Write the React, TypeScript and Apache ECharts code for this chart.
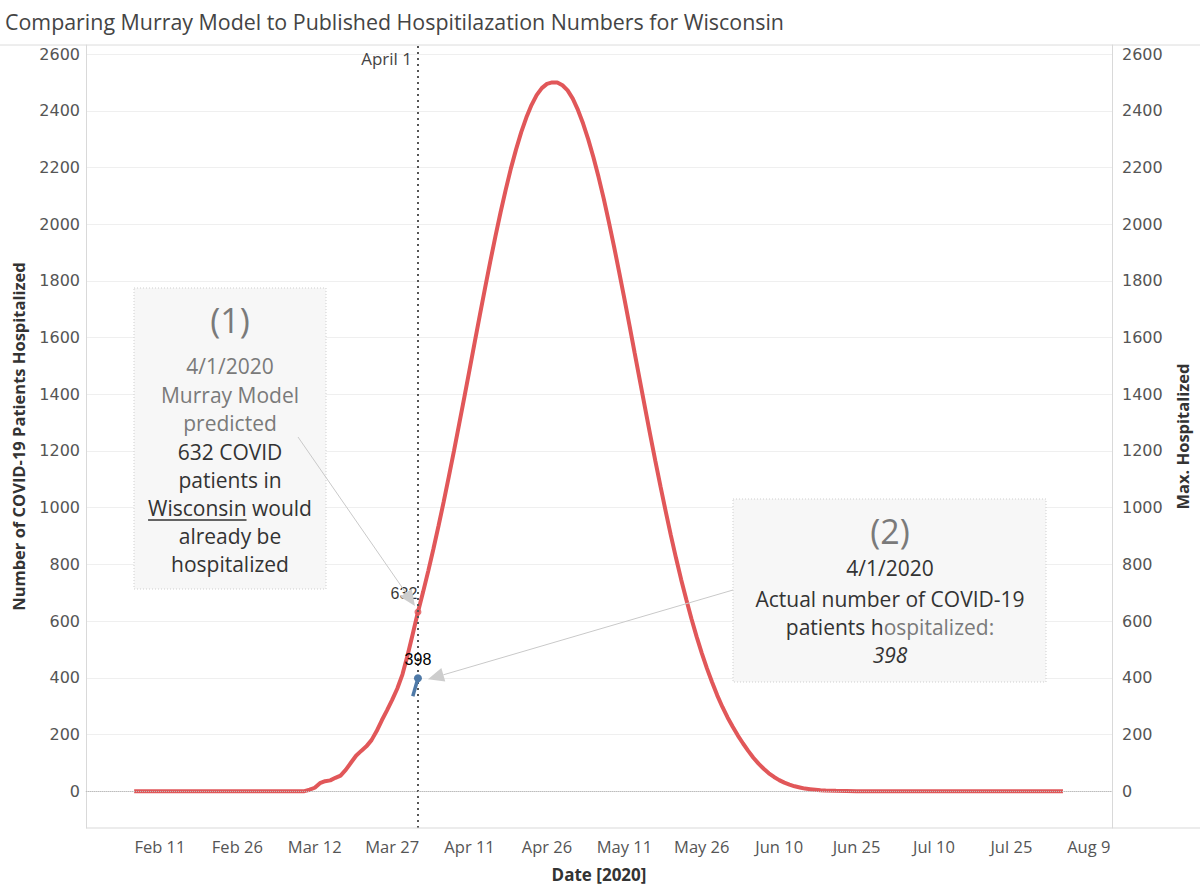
import React, { useEffect, useRef } from "react";
import * as echarts from "echarts";

// ---- data ----
const modelDates: string[] = [
  "2020-02-06", "2020-03-10", "2020-03-11", "2020-03-12", "2020-03-13", "2020-03-14", "2020-03-15",
  "2020-03-16", "2020-03-17", "2020-03-18", "2020-03-19", "2020-03-20", "2020-03-21", "2020-03-22",
  "2020-03-23", "2020-03-24", "2020-03-25", "2020-03-26", "2020-03-27", "2020-03-28", "2020-03-29",
  "2020-03-30", "2020-03-31", "2020-04-01", "2020-04-02", "2020-04-03", "2020-04-04", "2020-04-05",
  "2020-04-06", "2020-04-07", "2020-04-08", "2020-04-09", "2020-04-10", "2020-04-11", "2020-04-12",
  "2020-04-13", "2020-04-14", "2020-04-15", "2020-04-16", "2020-04-17", "2020-04-18", "2020-04-19",
  "2020-04-20", "2020-04-21", "2020-04-22", "2020-04-23", "2020-04-24", "2020-04-25", "2020-04-26",
  "2020-04-27", "2020-04-28", "2020-04-29", "2020-04-30", "2020-05-01", "2020-05-02", "2020-05-03",
  "2020-05-04", "2020-05-05", "2020-05-06", "2020-05-07", "2020-05-08", "2020-05-09", "2020-05-10",
  "2020-05-11", "2020-05-12", "2020-05-13", "2020-05-14", "2020-05-15", "2020-05-16", "2020-05-17",
  "2020-05-18", "2020-05-19", "2020-05-20", "2020-05-21", "2020-05-22", "2020-05-23", "2020-05-24",
  "2020-05-25", "2020-05-26", "2020-05-27", "2020-05-28", "2020-05-29", "2020-05-30", "2020-05-31",
  "2020-06-01", "2020-06-02", "2020-06-03", "2020-06-04", "2020-06-05", "2020-06-06", "2020-06-07",
  "2020-06-08", "2020-06-09", "2020-06-10", "2020-06-11", "2020-06-12", "2020-06-13", "2020-06-14",
  "2020-06-15", "2020-06-16", "2020-06-17", "2020-06-18", "2020-06-19", "2020-06-21", "2020-06-25",
  "2020-08-04",
];
const modelValues: number[] = [
  0, 0, 5, 12, 28, 35, 38,
  47, 55, 75, 100, 125, 142, 158,
  180, 212, 250, 285, 322, 362, 412,
  480, 555, 632, 703, 777, 855, 937,
  1022, 1111, 1202, 1296, 1391, 1487, 1584,
  1680, 1774, 1867, 1956, 2041, 2121, 2196,
  2263, 2324, 2376, 2420, 2455, 2480, 2495,
  2500, 2500, 2490, 2472, 2443, 2403, 2355,
  2299, 2236, 2166, 2090, 2007, 1921, 1830,
  1737, 1642, 1545, 1449, 1353, 1258, 1165,
  1075, 988, 903, 823, 747, 676, 608,
  545, 487, 433, 384, 338, 297, 260,
  227, 196, 168, 142, 118, 97, 79,
  63, 50, 39, 30, 23, 17, 13,
  9, 7, 5, 3, 2, 1, 0,
  0,
];
const actualDates: string[] = ["2020-03-31", "2020-04-01"];
const actualValues: number[] = [335, 398];
const xTickDates: string[] = [
  "2020-02-11", "2020-02-26", "2020-03-12", "2020-03-27", "2020-04-11", "2020-04-26", "2020-05-11",
  "2020-05-26", "2020-06-10", "2020-06-25", "2020-07-10", "2020-07-25", "2020-08-09",
];
const yTicks: number[] = [0, 200, 400, 600, 800, 1000, 1200, 1400, 1600, 1800, 2000, 2200, 2400, 2600];
const referenceDate = "2020-04-01";
const predictedValue = 632;
const actualValue = 398;

const MONTHS = ["Jan", "Feb", "Mar", "Apr", "May", "Jun", "Jul", "Aug", "Sep", "Oct", "Nov", "Dec"];
const toTs = (s: string) => {
  const [y, m, d] = s.split("-").map(Number);
  return Date.UTC(y, m - 1, d);
};
const fmt = (v: number) => {
  const d = new Date(v);
  return `${MONTHS[d.getUTCMonth()]} ${d.getUTCDate()}`;
};

const FONT = "'Open Sans', 'Noto Sans', sans-serif";
const GRAY = "#7a7a7a";
const DARK = "#333333";

function measure(text: string, size: number) {
  const c = document.createElement("canvas").getContext("2d");
  if (!c) return text.length * size * 0.55;
  c.font = `${size}px 'Open Sans'`;
  return c.measureText(text).width;
}

function arrow(x1: number, y1: number, x2: number, y2: number) {
  const dx = x2 - x1;
  const dy = y2 - y1;
  const len = Math.hypot(dx, dy);
  const ux = dx / len;
  const uy = dy / len;
  const hl = 16;
  const hw = 7;
  const bx = x2 - ux * hl;
  const by = y2 - uy * hl;
  return [
    { type: "line", z: 50, shape: { x1, y1, x2: bx, y2: by }, style: { stroke: "#c9c9c9", lineWidth: 1 } },
    {
      type: "polygon",
      z: 50,
      shape: { points: [[x2, y2], [bx - uy * hw, by + ux * hw], [bx + uy * hw, by - ux * hw]] },
      style: { fill: "#cdcdcd" },
    },
  ];
}

export default function App() {
  const ref = useRef<HTMLDivElement>(null);

  useEffect(() => {
    if (!ref.current) return;
    const chart = echarts.init(ref.current, undefined, { renderer: "svg" });
    const refTs = toTs(referenceDate);
    const modelData = modelDates.map((d, i) => [toTs(d), modelValues[i]]);
    const actualData = actualDates.map((d, i) =>
      i === actualDates.length - 1
        ? { value: [toTs(d), actualValues[i]], symbol: "circle" }
        : { value: [toTs(d), actualValues[i]], symbol: "none" }
    );
    const xTicks = xTickDates.map(toTs);

    const yAxisBase = {
      type: "value",
      min: -130,
      max: 2632,
      axisLine: { show: true, lineStyle: { color: "#d9d9d9" } },
      axisTick: { show: false, customValues: yTicks },
      axisLabel: {
        customValues: yTicks,
        formatter: (v: number) => String(v),
        color: "#555",
        fontSize: 16,
        fontFamily: "'DejaVu Sans', sans-serif",
      },
      nameLocation: "middle",
      nameGap: 59,
      nameTextStyle: { color: DARK, fontSize: 16.5, fontWeight: "bold", fontFamily: FONT },
    };

    chart.setOption({
      animation: false,
      backgroundColor: "#ffffff",
      grid: { left: 86, right: 88, top: 45, bottom: 59, containLabel: false, outerBoundsMode: "none" },
      xAxis: {
        type: "value",
        min: toTs("2020-01-27") + 16 * 3600000,
        max: toTs("2020-08-13") + 12 * 3600000,
        axisLine: { show: true, lineStyle: { color: "#d9d9d9" } },
        axisTick: { show: false, customValues: xTicks },
        splitLine: { show: false },
        axisLabel: {
          customValues: xTicks,
          formatter: (v: number) => fmt(v),
          color: "#555",
          fontSize: 16.5,
          fontFamily: FONT,
          margin: 10,
        },
        name: "Date [2020]",
        nameLocation: "middle",
        nameGap: 38,
        nameTextStyle: { color: DARK, fontSize: 17, fontWeight: "bold", fontFamily: FONT },
      },
      yAxis: [
        {
          ...yAxisBase,
          position: "left",
          name: "Number of COVID-19 Patients Hospitalized",
          splitLine: { show: true, lineStyle: { color: "#efefef", width: 1 } },
          axisLabel: { ...yAxisBase.axisLabel, margin: 6 },
        },
        {
          ...yAxisBase,
          position: "right",
          name: "Max. Hospitalized",
          splitLine: { show: false },
          axisLabel: { ...yAxisBase.axisLabel, margin: 10 },
        },
      ],
      series: [
        {
          type: "line",
          name: "Murray Model",
          data: modelData,
          showSymbol: false,
          symbol: "none",
          lineStyle: { color: "#e15759", width: 4 },
          itemStyle: { color: "#e15759" },
          z: 3,
          markLine: {
            silent: true,
            symbol: ["none", "none"],
            label: { show: false },
            data: [
              { xAxis: refTs, lineStyle: { color: "#555", type: [2, 4], width: 2 } },
              { yAxis: 0, lineStyle: { color: "#bdbdbd", type: "dotted", width: 1 } },
            ],
          },
        },
        {
          type: "scatter",
          name: "Predicted 4/1",
          data: [[refTs, predictedValue]],
          symbol: "circle",
          symbolSize: 7,
          itemStyle: { color: "#e15759" },
          z: 4,
          label: {
            show: true,
            position: "top",
            offset: [-14, -2],
            color: "#000",
            fontSize: 16,
            fontFamily: "'Liberation Sans', Arial, sans-serif",
            formatter: () => String(predictedValue),
          },
        },
        {
          type: "line",
          name: "Actual",
          data: actualData,
          symbolSize: 8,
          lineStyle: { color: "#4e79a7", width: 3.5 },
          itemStyle: { color: "#4e79a7" },
          z: 5,
          label: {
            show: true,
            position: "top",
            offset: [0, -2],
            color: "#000",
            fontSize: 16,
            fontFamily: "'Liberation Sans', Arial, sans-serif",
            formatter: (p: any) => (p.dataIndex === actualDates.length - 1 ? String(actualValue) : ""),
          },
        },
      ],
    });

    const pPred = chart.convertToPixel({ xAxisIndex: 0, yAxisIndex: 0 }, [refTs, predictedValue]) as number[];
    const pAct = chart.convertToPixel({ xAxisIndex: 0, yAxisIndex: 0 }, [refTs, actualValue]) as number[];

    const b1x = 230;
    const line = (text: string, x: number, y: number, size: number, color: string, extra: any = {}) => ({
      type: "text",
      z: 40,
      x,
      y,
      style: {
        text,
        fill: color,
        fontSize: size,
        fontFamily: FONT,
        align: "center",
        verticalAlign: "middle",
        ...extra,
      },
    });
    const wisW = measure("Wisconsin", 21);
    const fullW = measure("Wisconsin would", 21);
    const ulX = b1x - fullW / 2;

    chart.setOption({
      graphic: [
        {
          type: "text",
          z: 40,
          x: 5,
          y: 21,
          style: {
            text: "Comparing Murray Model to Published Hospitilazation Numbers for Wisconsin",
            fill: "#444",
            fontSize: 21.4,
            fontFamily: FONT,
            verticalAlign: "middle",
          },
        },
        { type: "line", z: 40, shape: { x1: 0, y1: 45, x2: 1200, y2: 45 }, style: { stroke: "#dcdcdc", lineWidth: 1 } },
        { type: "line", z: 40, shape: { x1: 86, y1: 828, x2: 1200, y2: 828 }, style: { stroke: "#d9d9d9", lineWidth: 1 } },
        {
          type: "text",
          z: 40,
          x: pPred[0] - 6,
          y: 58,
          style: {
            text: "April 1",
            fill: "#444",
            fontSize: 17,
            fontFamily: FONT,
            align: "right",
            verticalAlign: "middle",
          },
        },
        // Box 1
        {
          type: "rect",
          z: 30,
          shape: { x: 134, y: 288, width: 192, height: 301 },
          style: { fill: "#f7f7f7", stroke: "#cfcfcf", lineWidth: 1, lineDash: [1, 2] },
        },
        line("(1)", b1x, 320, 34, GRAY),
        line("4/1/2020", b1x, 366, 21, GRAY),
        line("Murray Model", b1x, 395, 21, GRAY),
        line("predicted", b1x, 423, 21, GRAY),
        line("632 COVID", b1x, 452, 21, DARK),
        line("patients in", b1x, 480, 21, DARK),
        line("Wisconsin would", b1x, 508, 21, DARK),
        line("already be", b1x, 536, 21, DARK),
        line("hospitalized", b1x, 564, 21, DARK),
        {
          type: "line",
          z: 41,
          shape: { x1: ulX, y1: 520, x2: ulX + wisW, y2: 520 },
          style: { stroke: DARK, lineWidth: 1.5 },
        },
        // Box 2
        {
          type: "rect",
          z: 30,
          shape: { x: 733, y: 499, width: 313, height: 183 },
          style: { fill: "#f7f7f7", stroke: "#cfcfcf", lineWidth: 1, lineDash: [1, 2] },
        },
        line("(2)", 890, 531, 34, GRAY),
        line("4/1/2020", 890, 568, 21, DARK),
        line("Actual number of COVID-19", 890, 599, 21, DARK),
        {
          type: "text",
          z: 40,
          x: 890,
          y: 627,
          style: {
            text: "{a|patients h}{b|ospitalized:}",
            align: "center",
            verticalAlign: "middle",
            rich: {
              a: { fill: DARK, fontSize: 21, fontFamily: FONT },
              b: { fill: GRAY, fontSize: 21, fontFamily: FONT },
            },
          },
        },
        line("398", 890, 655, 21, DARK, { fontStyle: "italic" }),
        ...arrow(298, 437, pPred[0] - 3, pPred[1] - 6),
        ...arrow(733, 590, pAct[0] + 10, pAct[1] + 1),
      ],
    });

    return () => chart.dispose();
  }, []);

  return (
    <div
      ref={ref}
      style={{ position: "fixed", left: 0, top: 0, width: 1200, height: 887, background: "#fff" }}
    />
  );
}
